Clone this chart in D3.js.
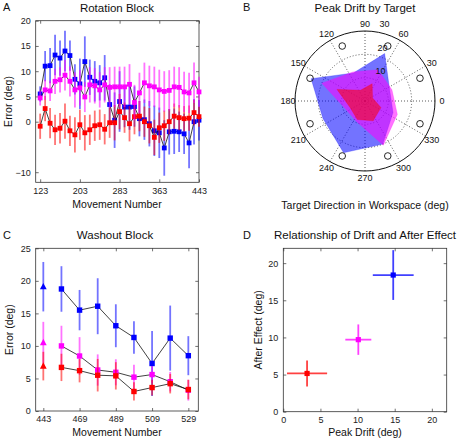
<!DOCTYPE html>
<html><head><meta charset="utf-8">
<script src="https://cdn.jsdelivr.net/npm/d3@7"></script>
<style>
body{margin:0;background:#fff;}
svg{font-family:"Liberation Sans",Arial,Helvetica,sans-serif;}
.tick text{font-size:9px;fill:#222;}
</style></head><body>
<svg id="c" width="460" height="443"></svg>
<script>
// ---------- DATA ----------
// Panel A: Rotation block
const rotMoves = [123,133,143,153,163,173,183,193,203,213,223,233,243,253,263,273,283,293,303,313,323,333,343,353,363,373,383,393,403,413,423,433,443];
const rotBlue  = [5.5,11.0,11.1,13.2,12.6,14.0,13.1,8.4,7.5,11.9,8.8,8.0,7.7,8.7,3.4,0.3,4.0,2.9,2.9,3.0,0.6,0.4,-0.4,-1.8,-2.2,-5.2,-2.0,-1.9,-2.0,-2.4,-4.2,0.0,0.3];
const rotBlueErr = [1.5,3.0,3.5,4.0,3.5,4.0,3.0,3.0,5.0,5.0,3.5,4.0,3.5,4.5,4.0,5.5,6.0,4.0,4.5,4.0,3.5,4.0,4.5,5.0,5.0,5.5,4.5,4.5,4.0,4.0,5.0,4.5,4.0];
const rotPink  = [4.7,6.3,6.1,8.0,8.3,9.2,8.0,6.3,6.7,4.9,7.3,7.1,6.3,7.3,6.8,6.9,6.9,6.9,7.4,3.8,5.7,7.7,7.1,6.9,6.3,6.0,6.2,6.9,6.8,5.9,5.7,7.7,5.9];
const rotPinkErr = [1.5,2.0,2.0,2.5,2.5,3.0,3.0,3.5,3.5,3.0,3.5,3.5,3.5,3.5,4.0,4.0,4.0,4.0,4.0,3.5,4.0,4.0,4.0,4.0,4.0,4.0,4.0,4.0,4.0,4.0,4.0,4.0,3.0];
const rotRed   = [-0.9,2.6,-0.3,-1.6,-1.3,0.1,-1.8,-2.6,-0.6,-2.2,-1.6,-0.8,-0.6,-1.5,-0.2,-0.2,2.0,0.8,-0.4,1.0,1.1,0.0,-0.8,-3.1,-1.2,-0.8,0.0,1.1,0.8,0.6,0.7,1.8,1.0];
const rotRedErr = [2.5,2.5,3.0,3.0,3.0,3.5,3.0,3.5,3.0,3.5,3.0,3.0,3.0,3.0,3.0,3.5,3.5,3.0,3.5,3.5,3.0,3.0,3.5,3.5,3.0,3.0,2.5,2.5,2.5,2.5,2.5,2.5,2.0];
const rotXTicks = [123,203,283,363,443];
const rotYTicks = [-10,0,5,10,15,20];

// Panel B: Peak drift by target (polar)
const targetAngles = [22.5,67.5,112.5,157.5,202.5,247.5,292.5,337.5];
const targetRadius = 25.5;
const driftBlue = [11.5,22,13,25,19.5,24,20,13];
const driftPink = [12.5,14.5,13.5,20,9,9.5,20.5,15];
const driftRed  = [3.5,8,5,13,7,8.6,9.2,7.4];
const polarAngleTicks = [0,30,60,90,120,150,180,210,240,270,300,330];
const polarRadTicks = [10,20,30];

// Panel C: Washout block
const washLabels = ["443","","469","","489","","509","","529"];
const washBlue = [19.1,18.75,15.5,16.1,13.1,11.3,7.3,11.2,8.5];
const washBlueErr = [3.8,3.5,3.1,4.3,3.3,2.5,5.0,5.0,3.0];
const washPink = [10.5,10.0,8.45,6.3,5.95,5.2,5.6,4.5,3.2];
const washPinkErr = [3.2,3.1,2.9,2.4,2.0,1.9,1.3,1.5,1.6];
const washRed = [6.9,6.7,6.2,5.5,5.4,3.0,3.6,4.2,3.3];
const washRedErr = [2.2,2.1,1.8,2.5,2.1,1.4,1.2,1.5,1.5];
const washYTicks = [0,5,10,15,20,25];

// Panel D: Drift vs after effect
const peakDrift = [3.2,10.1,14.8];
const peakDriftErr = [2.7,1.75,2.75];
const afterEffect = [5.15,9.7,18.4];
const afterEffectErr = [1.75,2.05,3.35];
const dTicks = [0,5,10,15,20];

const BLUE="#0000ff", PINK="#ff00ff", RED="#ff0000";

// ---------- DRAW ----------
const svg = d3.select("#c");

function frame(x, y, xt, yt, xfmt){
  const [x0,x1]=x.range(), [y0,y1]=y.range();
  const g = svg.append("g");
  const ax = (gen, t) => g.append("g").attr("transform",t).call(gen)
      .call(s=>s.select(".domain").remove())
      .call(s=>s.selectAll("line").attr("stroke","#333").attr("stroke-width",0.7));
  ax(d3.axisBottom(x).tickValues(xt).tickSizeInner(-3).tickSizeOuter(0).tickPadding(5).tickFormat(xfmt||d3.format("d")), `translate(0,${y0})`);
  ax(d3.axisTop(x).tickValues(xt).tickSizeInner(-3).tickSizeOuter(0).tickFormat(""), `translate(0,${y1})`);
  ax(d3.axisLeft(y).tickValues(yt).tickSizeInner(-3).tickSizeOuter(0).tickPadding(5).tickFormat(d3.format("d")), `translate(${x0},0)`);
  ax(d3.axisRight(y).tickValues(yt).tickSizeInner(-3).tickSizeOuter(0).tickFormat(""), `translate(${x1},0)`);
  g.append("rect").attr("x",x0).attr("y",y1).attr("width",x1-x0).attr("height",y0-y1)
   .attr("fill","none").attr("stroke","#333").attr("stroke-width",0.8);
}
function text(x,y,s,size,opts={}){
  const t = svg.append("text").attr("x",x).attr("y",y).text(s).attr("font-size",size)
     .attr("text-anchor",opts.anchor||"middle").attr("fill","#111");
  if(opts.rotate) t.attr("transform",`rotate(-90,${x},${y})`);
  if(opts.baseline) t.attr("dominant-baseline",opts.baseline);
  return t;
}
function series(xs, ys, errs, x, y, color, opts={}){
  const g = svg.append("g");
  const idx = d3.range(ys.length);
  g.selectAll("line.e").data(idx).join("line")
    .attr("x1",i=>x(xs[i])).attr("x2",i=>x(xs[i]))
    .attr("y1",i=>y(ys[i]-errs[i])).attr("y2",i=>y(ys[i]+errs[i]))
    .attr("stroke",color).attr("stroke-width",opts.ew||1.8).attr("stroke-opacity",opts.eo||0.55);
  const li = opts.lineFrom ? idx.slice(opts.lineFrom) : idx;
  g.append("path").attr("d", d3.line().x(i=>x(xs[i])).y(i=>y(ys[i]))(li))
    .attr("fill","none").attr("stroke","#111").attr("stroke-width",0.8);
  const sq = opts.sq||5;
  g.selectAll("rect").data(li).join("rect")
    .attr("x",i=>x(xs[i])-sq/2).attr("y",i=>y(ys[i])-sq/2).attr("width",sq).attr("height",sq)
    .attr("fill",color);
  if(opts.tri){
    opts.tri.forEach(i=>{
      const cx=x(xs[i]), cy=y(ys[i]);
      g.append("path").attr("d",`M${cx},${cy-3.8}L${cx+3.4},${cy+2.6}L${cx-3.4},${cy+2.6}Z`).attr("fill",color);
    });
  }
}

// Panel A
{
  const x = d3.scaleLinear().domain([114,443]).range([35.7,199]);
  const y = d3.scaleLinear().domain([-12,20]).range([182.3,20.7]);
  frame(x,y,rotXTicks,rotYTicks);
  series(rotMoves, rotBlue, rotBlueErr, x, y, BLUE, {sq:4.8});
  series(rotMoves, rotRed, rotRedErr, x, y, RED, {sq:4.8});
  series(rotMoves, rotPink, rotPinkErr, x, y, PINK, {sq:4.8});
  text(117,11.5,"Rotation Block",11.5);
  text(3,11,"A",11,{anchor:"start"});
  text(117,208,"Movement Number",10.5);
  text(12,101.5,"Error (deg)",10.5,{rotate:true});
}

// Panel B
{
  const cx=365, cy=101;
  const r = d3.scaleLinear().domain([0,30]).range([0,70]);
  const pt = (a,rv)=>[cx + r(rv)*Math.cos(a*Math.PI/180), cy - r(rv)*Math.sin(a*Math.PI/180)];
  const g = svg.append("g");
  const poly = (vals,color,op)=> g.append("path")
     .attr("d", d3.line()(targetAngles.map((a,i)=>pt(a,vals[i])))+"Z")
     .attr("fill",color).attr("fill-opacity",op).attr("stroke",color).attr("stroke-opacity",0.4).attr("stroke-width",0.6);
  // grid
  polarAngleTicks.forEach(a=>{
    const [x2,y2]=pt(a,30);
    g.append("line").attr("x1",cx).attr("y1",cy).attr("x2",x2).attr("y2",y2)
     .attr("stroke","#333").attr("stroke-width",0.8).attr("stroke-dasharray","1,2");
  });
  polarRadTicks.slice(0,-1).forEach(v=>{
    g.append("circle").attr("cx",cx).attr("cy",cy).attr("r",r(v)).attr("fill","none")
     .attr("stroke","#333").attr("stroke-width",0.8).attr("stroke-dasharray","1,2");
  });
  poly(driftBlue,BLUE,0.55);
  poly(driftPink,PINK,0.55);
  poly(driftRed,RED,0.55);
  g.append("circle").attr("cx",cx).attr("cy",cy).attr("r",r(30)).attr("fill","none")
   .attr("stroke","#111").attr("stroke-width",1);
  targetAngles.forEach(a=>{
    const [x,y]=pt(a,targetRadius);
    g.append("circle").attr("cx",x).attr("cy",y).attr("r",3.3).attr("fill","none").attr("stroke","#111").attr("stroke-width",0.9);
  });
  polarAngleTicks.forEach(a=>{
    const rr = 77, x = cx+rr*Math.cos(a*Math.PI/180), y = cy-rr*Math.sin(a*Math.PI/180);
    text(x,y,String(a),9,{baseline:"central"});
  });
  polarRadTicks.forEach(v=>{
    const x = cx + r(v)*Math.cos(85*Math.PI/180)+8.5, y = cy - r(v)*Math.sin(85*Math.PI/180)-7;
    text(x,y,String(v),9,{anchor:"start",baseline:"central"});
  });
  text(365,11.5,"Peak Drift by Target",11.5);
  text(243,11,"B",11,{anchor:"start"});
  text(365,209,"Target Direction in Workspace (deg)",10.5);
}

// Panel C
{
  const idx = d3.range(washBlue.length);
  const x = d3.scaleLinear().domain([-0.42,8.55]).range([35.7,198.3]);
  const y = d3.scaleLinear().domain([0,25]).range([411,248.3]);
  frame(x,y,idx.filter(i=>washLabels[i]!==""),washYTicks,i=>washLabels[i]);
  series(idx, washBlue, washBlueErr, x, y, BLUE, {lineFrom:1,sq:5.4,tri:[0]});
  series(idx, washPink, washPinkErr, x, y, PINK, {lineFrom:1,sq:5.4,tri:[0]});
  series(idx, washRed, washRedErr, x, y, RED, {lineFrom:1,sq:5.4,tri:[0]});
  text(115,239,"Washout Block",11.5);
  text(3,239,"C",11,{anchor:"start"});
  text(117,436,"Movement Number",10.5);
  text(13,329.7,"Error (deg)",10.5,{rotate:true});
}

// Panel D
{
  const x = d3.scaleLinear().domain([0,22]).range([283.3,446.7]);
  const y = d3.scaleLinear().domain([0,22]).range([411.7,248.3]);
  frame(x,y,dTicks,dTicks);
  const cols=[RED,PINK,BLUE];
  peakDrift.forEach((px,i)=>{
    const g = svg.append("g");
    g.append("line").attr("x1",x(px-peakDriftErr[i])).attr("x2",x(px+peakDriftErr[i]))
      .attr("y1",y(afterEffect[i])).attr("y2",y(afterEffect[i]))
      .attr("stroke",cols[i]).attr("stroke-width",1.8).attr("stroke-opacity",0.75);
    g.append("line").attr("x1",x(px)).attr("x2",x(px))
      .attr("y1",y(afterEffect[i]-afterEffectErr[i])).attr("y2",y(afterEffect[i]+afterEffectErr[i]))
      .attr("stroke",cols[i]).attr("stroke-width",1.8).attr("stroke-opacity",0.75);
    g.append("rect").attr("x",x(px)-2.6).attr("y",y(afterEffect[i])-2.6).attr("width",5.2).attr("height",5.2).attr("fill",cols[i]);
  });
  text(365,239,"Relationship of Drift and After Effect",11.5);
  text(243,239,"D",11,{anchor:"start"});
  text(365,436,"Peak Drift (deg)",10.5);
  text(262,329.8,"After Effect (deg)",10.5,{rotate:true});
}
</script></body></html>
